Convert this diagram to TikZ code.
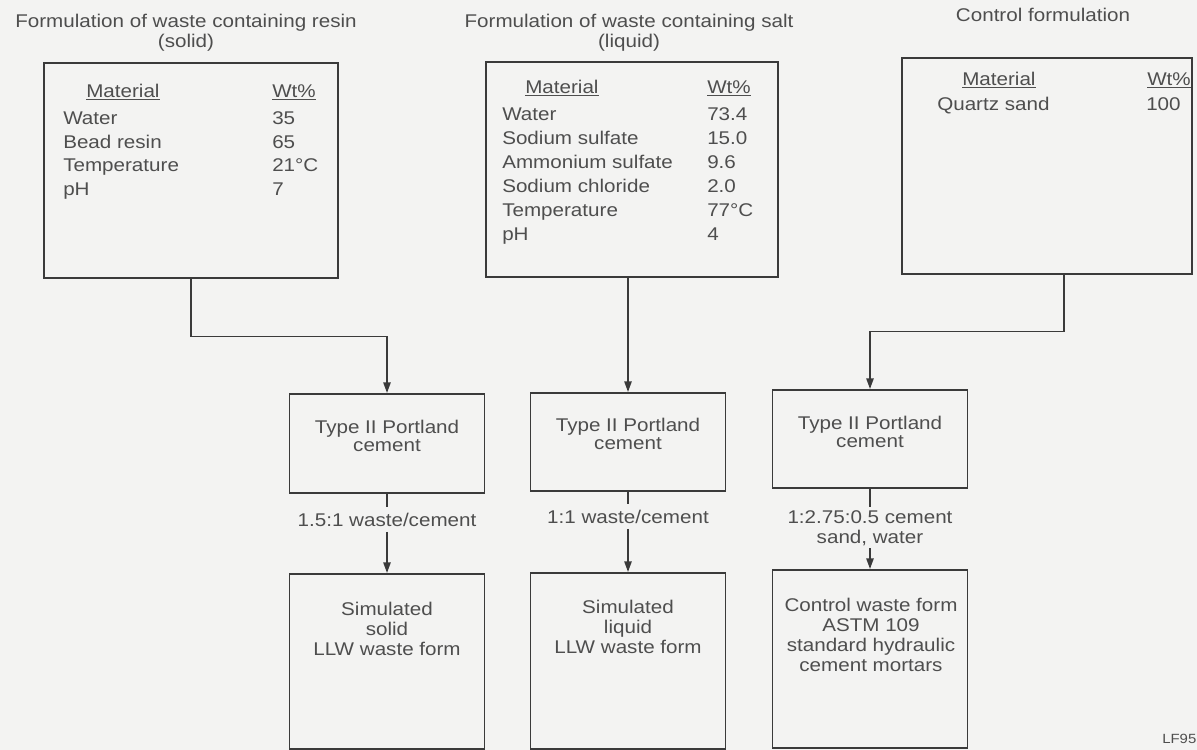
\documentclass[tikz,border=0pt]{standalone}
\usepackage{fontspec}
\setmainfont{Liberation Sans}[FakeStretch=1.12]
\usetikzlibrary{arrows.meta}

\definecolor{paper}{RGB}{243,243,242}
\definecolor{ink}{RGB}{58,58,58}
\definecolor{txt}{RGB}{78,78,78}

\tikzset{
  formbox/.style={draw=ink, line width=1.2pt, anchor=north west, inner sep=0pt},
  cembox/.style={draw=ink, line width=1.2pt, anchor=north, minimum width=146pt, inner sep=0pt},
  lbl/.style={text=txt, inner sep=0pt, anchor=base, align=center, font=\fontsize{13.8}{15}\selectfont},
  cell/.style={text=txt, inner sep=0pt, anchor=base west, font=\fontsize{13.8}{15}\selectfont},
  ratio/.style={lbl, inner sep=4pt},
  flow/.style={draw=ink, line width=1.2pt},
  arr/.style={flow, -{Triangle[length=8pt,width=5.5pt]}}
}

\begin{document}
\begin{tikzpicture}[x=0.75pt, y=-0.75pt]
  \fill[paper] (0,0) rectangle (1197,750);
  \useasboundingbox (0,0) rectangle (1197,750);

  % titles (base = last line)
  \node[lbl] (tresin) at (186,47) {Formulation of waste containing resin\\(solid)};
  \node[lbl] (tsalt) at (629,47) {Formulation of waste containing salt\\(liquid)};
  \node[lbl] (tctrl) at (1043,21) {Control formulation};

  % formulation boxes
  \node[formbox, minimum width=220.5pt, minimum height=161.25pt] (resin) at (43,62) {};
  \node[formbox, minimum width=219pt, minimum height=161.25pt] (salt) at (485,61) {};
  \node[formbox, minimum width=217.5pt, minimum height=162pt] (ctrl) at (901,57) {};

  % resin table
  \node[cell] (rmat) at (86,97) {\underline{Material}};
  \node[cell] (rwt) at (272,97) {\underline{Wt\%}};
  \foreach \m/\v [count=\k] in {Water/35, Bead resin/65, Temperature/21°C, pH/7} {
    \node[cell] (rm\k) at (63,{101+23.5*\k}) {\m};
    \node[cell] (rv\k) at (272,{101+23.5*\k}) {\v};
  }

  % salt table
  \node[cell] (smat) at (525,93) {\underline{Material}};
  \node[cell] (swt) at (707,93) {\underline{Wt\%}};
  \foreach \m/\v [count=\k] in {Water/73.4, Sodium sulfate/15.0, Ammonium sulfate/9.6,
                                Sodium chloride/2.0, Temperature/77°C, pH/4} {
    \node[cell] (sm\k) at (502,{96+24*\k}) {\m};
    \node[cell] (sv\k) at (707,{96+24*\k}) {\v};
  }

  % control table
  \node[cell] (cmat) at (962,85) {\underline{Material}};
  \node[cell] (cwt) at (1147,85) {\underline{Wt\%}};
  \node[cell] (cm1) at (937,110) {Quartz sand};
  \node[cell] (cv1) at (1146,110) {100};

  % cement boxes
  \node[cembox, minimum height=74.25pt] (cemA) at (387,393) {};
  \node[cembox, minimum height=73.5pt] (cemB) at (628,392) {};
  \node[cembox, minimum height=73.5pt] (cemC) at (870,389) {};
  \foreach \c/\x/\y in {A/387/451, B/628/449, C/870/447} {
    \node[lbl, font=\fontsize{13.8}{13.5}\selectfont] (cem\c t) at (\x,\y) {Type II Portland\\cement};
  }

  % waste form boxes
  \node[cembox, minimum height=131.25pt] (simA) at (387,573) {};
  \node[cembox, minimum height=132pt] (simB) at (628,572) {};
  \node[cembox, minimum height=133.5pt] (simC) at (870,569) {};
  \node[lbl] (simAt) at (387,655) {Simulated\\solid\\LLW waste form};
  \node[lbl] (simBt) at (628,653) {Simulated\\liquid\\LLW waste form};
  \node[lbl] (simCt) at (871,671) {Control waste form\\ASTM 109\\standard hydraulic\\cement mortars};

  % mixing ratios
  \node[ratio] (ratA) at (387,526) {1.5:1 waste/cement};
  \node[ratio] (ratB) at (628,523) {1:1 waste/cement};
  \node[ratio, inner ysep=2pt] (ratC) at (870,543) {1:2.75:0.5 cement\\sand, water};

  % connectors
  \draw[arr] (resin.south) -- ++(0,58) -| (cemA.north);
  \draw[arr] (salt.south -| cemB.north) -- (cemB.north);
  \draw[arr] ([xshift=12.75pt]ctrl.south) -- ++(0,57) -| (cemC.north);
  \foreach \c in {A, B, C} {
    \draw[flow] (cem\c.south) -- (rat\c.north);
    \draw[arr] (rat\c.south) -- (sim\c.north);
  }

  \node[cell, font=\fontsize{10}{12}\selectfont] (tag) at (1162,743) {LF95};
\end{tikzpicture}
\end{document}
